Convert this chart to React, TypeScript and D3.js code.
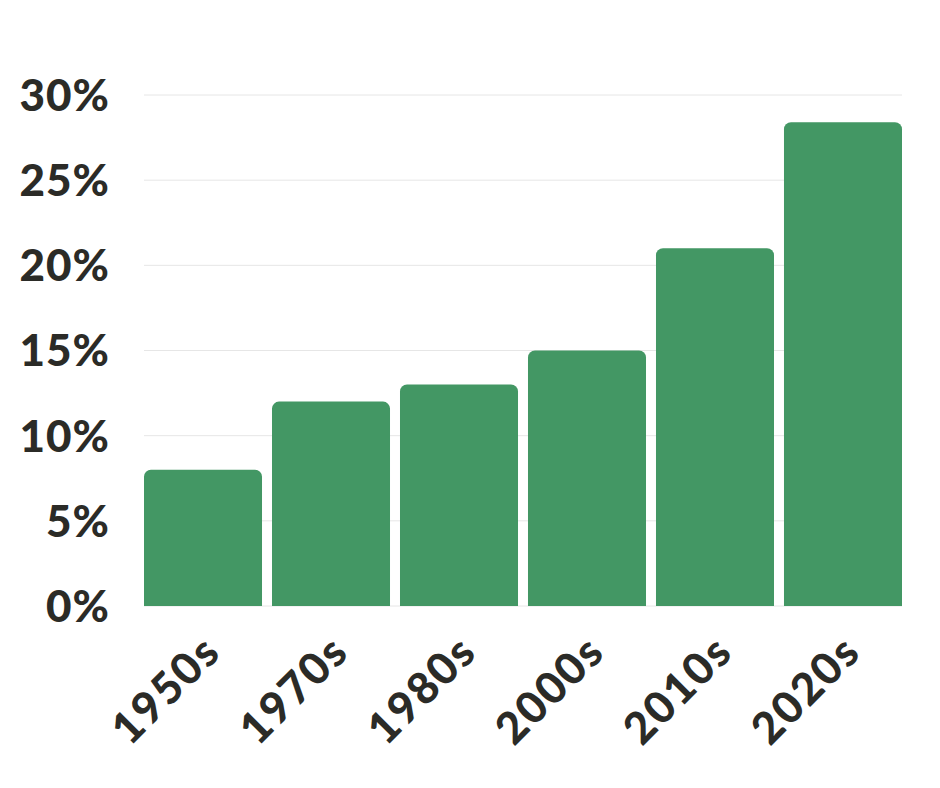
import React, { useEffect, useRef } from "react";
import * as d3 from "d3";

const decades = ["1950s", "1970s", "1980s", "2000s", "2010s", "2020s"];
const shares = [8, 12, 13, 15, 21, 28.4];
const yTicks = [0, 5, 10, 15, 20, 25, 30];

const W = 940;
const H = 788;
const FONT = "Lato, 'Open Sans', sans-serif";

const App: React.FC = () => {
    const svgRef = useRef<SVGSVGElement | null>(null);

    useEffect(() => {
        const svg = d3.select(svgRef.current);
        svg.selectAll("*").remove();

        const left = 144;
        const right = 902;
        const top = 95;
        const bottom = 606;

        const x = d3.scaleBand<string>().domain(decades).range([left, right]).paddingInner(0.078).paddingOuter(0);
        const y = d3.scaleLinear().domain([0, 30]).range([bottom, top]);

        // grid
        svg.append("g")
            .selectAll("line")
            .data(yTicks)
            .enter()
            .append("line")
            .attr("x1", left)
            .attr("x2", right)
            .attr("y1", (d) => y(d))
            .attr("y2", (d) => y(d))
            .attr("stroke", "#e6e6e6")
            .attr("stroke-width", 1);

        // y labels
        svg.append("g")
            .selectAll("text")
            .data(yTicks)
            .enter()
            .append("text")
            .attr("x", 110)
            .attr("y", (d) => y(d))
            .attr("dy", "0.36em")
            .attr("text-anchor", "end")
            .attr("font-family", FONT)
            .attr("font-weight", 900)
            .attr("font-size", 44)
            .attr("letter-spacing", 1)
            .attr("fill", "#2b2b27")
            .text((d) => `${d}%`);

        // bars, rounded top only
        const r = 7;
        svg.append("g")
            .selectAll("path")
            .data(decades)
            .enter()
            .append("path")
            .attr("d", (d, i) => {
                const x0 = x(d)!;
                const w = x.bandwidth();
                const y0 = y(shares[i]);
                const p = d3.path();
                p.moveTo(x0, bottom);
                p.lineTo(x0, y0 + r);
                p.arcTo(x0, y0, x0 + r, y0, r);
                p.lineTo(x0 + w - r, y0);
                p.arcTo(x0 + w, y0, x0 + w, y0 + r, r);
                p.lineTo(x0 + w, bottom);
                p.closePath();
                return p.toString();
            })
            .attr("fill", "#439764");

        // x labels
        svg.append("g")
            .selectAll("text")
            .data(decades)
            .enter()
            .append("text")
            .attr("transform", (d) => `translate(${x(d)! + x.bandwidth() / 2 + 20},${654}) rotate(-45)`)
            .attr("text-anchor", "end")
            .attr("font-family", FONT)
            .attr("font-weight", 900)
            .attr("font-size", 44)
            .attr("letter-spacing", 2)
            .attr("fill", "#2b2b27")
            .text((d) => d);
    }, []);

    return <svg ref={svgRef} width={W} height={H} style={{ display: "block", margin: -8 }} />;
};

export default App;
